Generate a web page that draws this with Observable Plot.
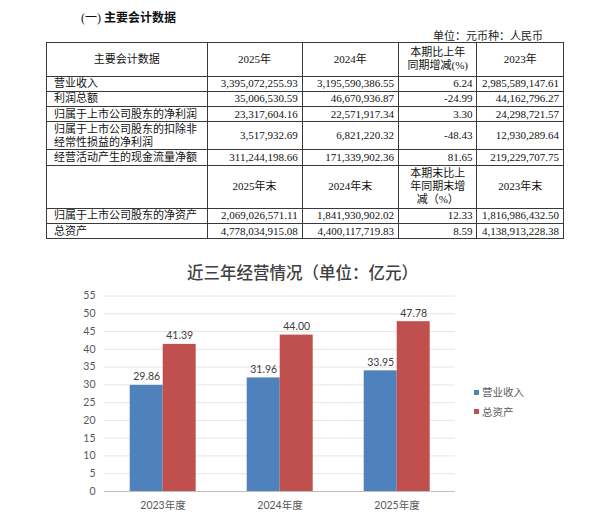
<!DOCTYPE html>
<html><head><meta charset="utf-8">
<script src="https://cdn.jsdelivr.net/npm/d3@7"></script>
<script src="https://cdn.jsdelivr.net/npm/@observablehq/plot@0.6"></script>
<style>
body{margin:0;background:#fff;}
#page{position:relative;width:600px;height:530px;overflow:hidden;background:#fff;}
.abs{position:absolute;white-space:nowrap;}
#sec{left:81px;top:9px;font:12px/16px "Liberation Serif","Noto Sans CJK SC";color:#111;}
#sec b{font-family:"Noto Sans CJK SC";font-weight:700;}
#unit{right:57px;top:29px;font:11px/14px "Liberation Serif","Noto Sans CJK SC";color:#222;}
#tbl{position:absolute;left:46px;top:42px;border-collapse:collapse;table-layout:fixed;width:517px;
 font:11px/13px "Liberation Serif","Noto Sans CJK SC";color:#111;}
#tbl td{border:1px solid #3a3a3a;padding:0;overflow:hidden;white-space:pre;}
#tbl td.l{text-align:left;padding-left:7px;}
#tbl td.r{text-align:right;padding-right:4px;}
#tbl td.c{text-align:center;}
#ctitle{left:0;width:605px;top:262px;text-align:center;font:500 16.5px/21px "Noto Sans CJK SC";color:#404040;}
#chart{position:absolute;left:0;top:280px;}
.lg{font:10.5px/14px "Noto Sans CJK SC";color:#595959;}
.sw{display:inline-block;width:5px;height:5px;margin-right:3px;vertical-align:middle;position:relative;top:-1px;}
</style></head><body><div id="page">
<div id="sec" class="abs">(一) <b>主要会计数据</b></div>
<div id="unit" class="abs">单位：元币种：人民币</div>
<table id="tbl"><colgroup><col style="width:160.5px"><col style="width:95.2px"><col style="width:96.3px"><col style="width:78.5px"><col style="width:86.5px"></colgroup><tbody id="tb"></tbody></table>
<div id="ctitle" class="abs">近三年经营情况（单位：亿元）</div>
<div id="chart"></div>
<div id="legend"></div>
</div>
<script>
// ---- table data ----
const tableHeader1 = ["主要会计数据", "2025年", "2024年", "本期比上年\n同期增减(%)", "2023年"];
const flowItems = ["营业收入", "利润总额", "归属于上市公司股东的净利润", "归属于上市公司股东的扣除非\n经常性损益的净利润", "经营活动产生的现金流量净额"];
const flow2025 = ["3,395,072,255.93", "35,006,530.59", "23,317,604.16", "3,517,932.69", "311,244,198.66"];
const flow2024 = ["3,195,590,386.55", "46,670,936.87", "22,571,917.34", "6,821,220.32", "171,339,902.36"];
const flowChange = ["6.24", "-24.99", "3.30", "-48.43", "81.65"];
const flow2023 = ["2,985,589,147.61", "44,162,796.27", "24,298,721.57", "12,930,289.64", "219,229,707.75"];
const tableHeader2 = ["", "2025年末", "2024年末", "本期末比上\n年同期末增\n减（%）", "2023年末"];
const stockItems = ["归属于上市公司股东的净资产", "总资产"];
const stock2025 = ["2,069,026,571.11", "4,778,034,915.08"];
const stock2024 = ["1,841,930,902.02", "4,400,117,719.83"];
const stockChange = ["12.33", "8.59"];
const stock2023 = ["1,816,986,432.50", "4,138,913,228.38"];

// ---- chart data ----
const years = ["2023年度", "2024年度", "2025年度"];
const seriesNames = ["营业收入", "总资产"];
const revenue = [29.86, 31.96, 33.95];
const totalAssets = [41.39, 44.00, 47.78];
const seriesColors = ["#4f81bd", "#c0504d"];
const yTicks = [0, 5, 10, 15, 20, 25, 30, 35, 40, 45, 50, 55];

// build table
const tb = document.getElementById("tb");
function addRow(cells, classes, h) {
  const tr = document.createElement("tr");
  tr.style.height = h + "px";
  cells.forEach((t, i) => {
    const td = document.createElement("td");
    td.className = classes[i];
    td.textContent = t;
    tr.appendChild(td);
  });
  tb.appendChild(tr);
}
const hc = ["c", "c", "c", "c", "c"], rc = ["l", "r", "r", "r", "r"];
addRow(tableHeader1, hc, 33.5);
flowItems.forEach((it, i) => addRow([it, flow2025[i], flow2024[i], flowChange[i], flow2023[i]], rc, it.includes("\n") ? 28 : 15.3));
addRow(tableHeader2, hc, 43);
stockItems.forEach((it, i) => addRow([it, stock2025[i], stock2024[i], stockChange[i], stock2023[i]], rc, 15.3));

// chart
const data = years.flatMap((y, i) => [
  {year: y, series: seriesNames[0], value: revenue[i]},
  {year: y, series: seriesNames[1], value: totalAssets[i]}
]);
const chart = Plot.plot({
  width: 600, height: 250,
  marginTop: 15.5, marginBottom: 39, marginLeft: 103.3, marginRight: 145,
  style: {fontFamily: "Lato, 'Noto Sans CJK SC'", fontSize: "10.5px", color: "#595959", background: "transparent"},
  fx: {domain: years, padding: 0, label: null, axis: "bottom", tickSize: 0, tickPadding: 10},
  x: {domain: seriesNames, paddingInner: 0, paddingOuter: 0.76, axis: null},
  y: {domain: [0, 55], ticks: yTicks, tickSize: 0, tickPadding: 9, label: null},
  color: {domain: seriesNames, range: seriesColors},
  marks: [
    Plot.ruleY(yTicks.filter(t => t > 0), {stroke: "#e6e6e6"}),
    Plot.ruleY([0], {stroke: "#bfbfbf"}),
    Plot.barY(data, {fx: "year", x: "series", y: "value", fill: "series"}),
    Plot.text(data, {fx: "year", x: "series", y: "value", text: d => d.value.toFixed(2), dy: -5, lineAnchor: "bottom", fill: "#404040", fontSize: 10.5})
  ]
});
document.getElementById("chart").appendChild(chart);

// legend
const lg = document.getElementById("legend");
seriesNames.forEach((s, i) => {
  const d = document.createElement("div");
  d.className = "abs lg";
  d.style.left = "474px";
  d.style.top = (385 + i * 19.5) + "px";
  d.innerHTML = `<span class="sw" style="background:${seriesColors[i]}"></span>${s}`;
  lg.appendChild(d);
});
</script>
</body></html>
